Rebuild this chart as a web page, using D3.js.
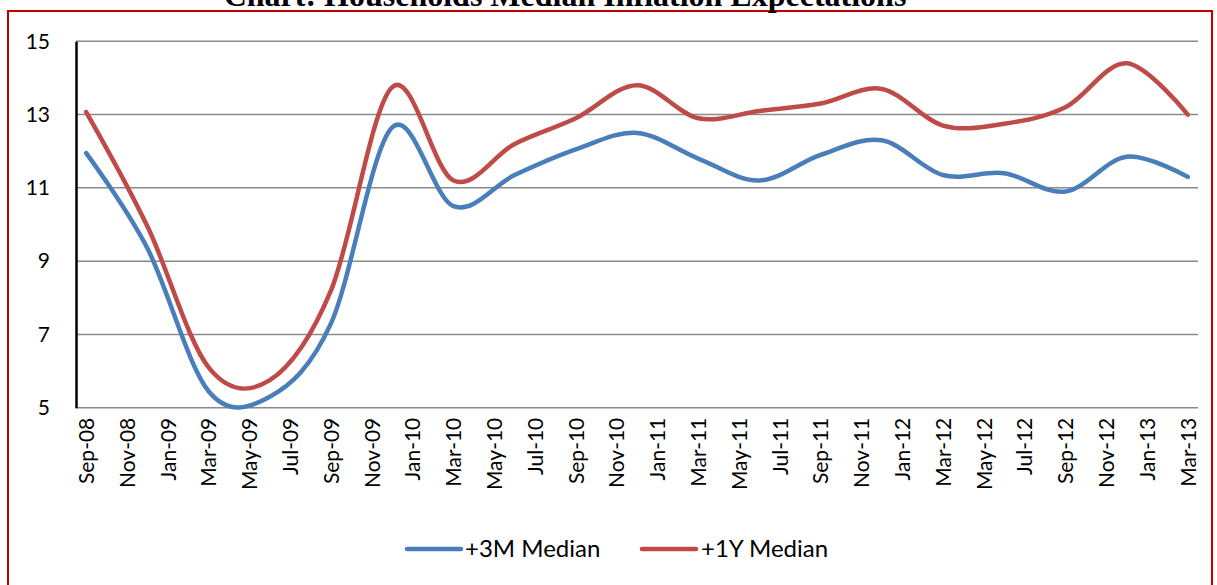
<!DOCTYPE html>
<html>
<head>
<meta charset="utf-8">
<script src="https://cdn.jsdelivr.net/npm/d3@7"></script>
<style>
  html, body { margin: 0; padding: 0; background: #fff; }
  svg { display: block; }
</style>
</head>
<body>
<svg id="chart" width="1217" height="585"></svg>
<script>
// ---- Data ----
const dataMonths = ["Sep-08","Dec-08","Mar-09","Jun-09","Sep-09","Dec-09","Mar-10","Jun-10","Sep-10","Dec-10",
  "Mar-11","Jun-11","Sep-11","Dec-11","Mar-12","Jun-12","Sep-12","Dec-12","Mar-13"];
const median3M = [11.95, 9.35, 5.45, 5.3, 7.3, 12.65, 10.5, 11.35, 12.05, 12.5,
  11.8, 11.2, 11.9, 12.3, 11.35, 11.4, 10.9, 11.85, 11.3];
const median1Y = [13.07, 9.95, 6.1, 5.75, 8.2, 13.75, 11.2, 12.2, 12.9, 13.8,
  12.9, 13.1, 13.3, 13.7, 12.7, 12.75, 13.2, 14.4, 13.0];
const tickLabels = ["Sep-08","Nov-08","Jan-09","Mar-09","May-09","Jul-09","Sep-09","Nov-09","Jan-10","Mar-10",
  "May-10","Jul-10","Sep-10","Nov-10","Jan-11","Mar-11","May-11","Jul-11","Sep-11","Nov-11","Jan-12","Mar-12",
  "May-12","Jul-12","Sep-12","Nov-12","Jan-13","Mar-13"];
const yTicks = [5, 7, 9, 11, 13, 15];
const seriesNames = ["+3M Median", "+1Y Median"];
const chartTitle = "Chart: Households Median Inflation Expectations";

// ---- Layout ----
const svg = d3.select("#chart");
const plotLeft = 76, plotRight = 1198, plotTop = 41.3, plotBottom = 407.7;
const fontFam = "Lato, 'Open Sans', sans-serif";

// month axis domain (every month, Excel date axis)
const fmt = d3.timeFormat("%b-%y");
const allMonths = d3.timeMonth.range(new Date(2008, 8, 1), new Date(2013, 3, 1)).map(fmt);

const x = d3.scalePoint().domain(allMonths).range([plotLeft, plotRight]).padding(0.5);
const y = d3.scaleLinear().domain([5, 15]).range([plotBottom, plotTop]);

// border
svg.append("rect").attr("x", 8).attr("y", 11).attr("width", 1204).attr("height", 600)
  .attr("fill", "none").attr("stroke", "#c00000").attr("stroke-width", 2);

// title (partially cut at top, as in the reference)
svg.append("text").attr("x", 565).attr("y", 6).attr("text-anchor", "middle")
  .attr("font-family", "'Liberation Serif', 'Times New Roman', serif")
  .attr("font-weight", "bold").attr("font-size", 32).attr("fill", "#000")
  .text(chartTitle);

// gridlines
svg.append("g").selectAll("line").data(yTicks).join("line")
  .attr("x1", plotLeft).attr("x2", plotRight)
  .attr("y1", d => y(d)).attr("y2", d => y(d))
  .attr("stroke", "#8a8a8a").attr("stroke-width", 1.5);

// y axis
const yAxis = svg.append("g").attr("transform", `translate(${plotLeft},0)`)
  .call(d3.axisLeft(y).tickValues(yTicks).tickSize(0).tickPadding(26));
yAxis.select(".domain").attr("stroke", "#000").attr("stroke-width", 2.5);
yAxis.selectAll("text").attr("font-family", fontFam).attr("font-size", 21).attr("fill", "#000");

// x axis labels
const xAxis = svg.append("g").attr("transform", `translate(0,${plotBottom})`)
  .call(d3.axisBottom(x).tickValues(tickLabels).tickSize(0).tickPadding(0));
xAxis.select(".domain").remove();
xAxis.selectAll("text")
  .attr("font-family", fontFam).attr("font-size", 21).attr("fill", "#000")
  .attr("text-anchor", "end")
  .attr("transform", "rotate(-90)")
  .attr("x", -10).attr("y", 0).attr("dy", "0.35em");

// lines
const line = d3.line().x((d, i) => x(dataMonths[i])).y(d => y(d)).curve(d3.curveCardinal.tension(0));
const colors = ["#4a7ebb", "#be4b48"];
[median3M, median1Y].forEach((s, k) => {
  svg.append("path").datum(s).attr("d", line)
    .attr("fill", "none").attr("stroke", colors[k]).attr("stroke-width", 4.5)
    .attr("stroke-linecap", "round").attr("stroke-linejoin", "round");
});

// legend
const legendItems = [{x: 407, tx: 465}, {x: 642, tx: 701}];
legendItems.forEach((it, k) => {
  svg.append("line").attr("x1", it.x).attr("x2", it.x + 54).attr("y1", 549).attr("y2", 549)
    .attr("stroke", colors[k]).attr("stroke-width", 4.5).attr("stroke-linecap", "round");
  svg.append("text").attr("x", it.tx).attr("y", 549).attr("dy", "0.35em")
    .attr("font-family", fontFam).attr("font-size", 24).attr("fill", "#000")
    .text(seriesNames[k]);
});
</script>
</body>
</html>
